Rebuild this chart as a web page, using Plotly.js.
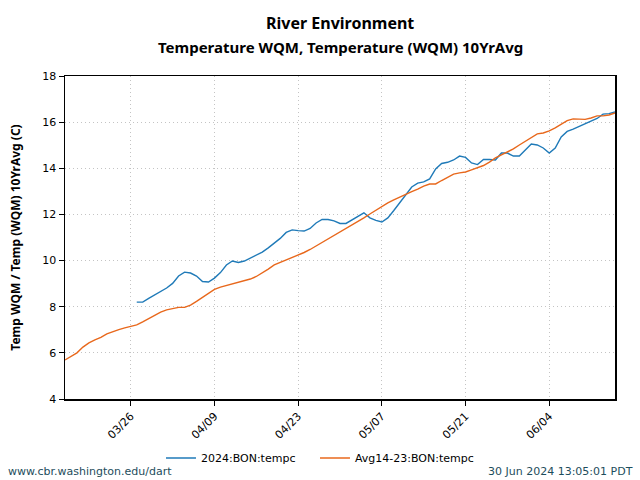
<!DOCTYPE html>
<html>
<head>
<meta charset="utf-8">
<script src="https://cdn.plot.ly/plotly-3.0.1.min.js"></script>
<style>html,body{margin:0;padding:0;background:#fff;}#chart{width:640px;height:480px;}</style>
</head>
<body>
<div id="chart"></div>
<script>
const startDate = '2024-03-15';
const avgValues = [5.69,5.86,6.0,6.25,6.43,6.56,6.67,6.82,6.93,7.01,7.08,7.14,7.21,7.34,7.49,7.64,7.77,7.86,7.90,7.97,7.97,8.07,8.23,8.40,8.57,8.75,8.85,8.92,8.98,9.05,9.11,9.20,9.31,9.46,9.63,9.81,9.92,10.03,10.13,10.22,10.35,10.48,10.63,10.78,10.94,11.09,11.24,11.39,11.54,11.67,11.85,12.02,12.19,12.34,12.50,12.63,12.76,12.89,12.99,13.10,13.23,13.32,13.32,13.47,13.62,13.75,13.80,13.84,13.93,14.01,14.12,14.27,14.45,14.58,14.71,14.84,15.01,15.16,15.34,15.49,15.53,15.62,15.75,15.92,16.07,16.14,16.14,16.12,16.18,16.27,16.27,16.31,16.40];
const yearStartOffset = 12;
const yearValues = [8.20,8.20,8.36,8.51,8.66,8.81,9.01,9.33,9.50,9.46,9.33,9.09,9.07,9.24,9.48,9.81,9.98,9.92,9.98,10.11,10.24,10.37,10.55,10.76,10.96,11.22,11.33,11.30,11.28,11.39,11.63,11.78,11.78,11.72,11.61,11.61,11.76,11.89,12.07,11.85,11.74,11.67,11.85,12.17,12.52,12.86,13.19,13.36,13.41,13.54,13.97,14.21,14.26,14.36,14.53,14.47,14.23,14.16,14.38,14.38,14.36,14.66,14.66,14.53,14.53,14.79,15.05,15.01,14.88,14.66,14.88,15.36,15.60,15.70,15.81,15.94,16.05,16.16,16.35,16.37,16.44];
const seriesNames = ['2024:BON:tempc','Avg14-23:BON:tempc'];
const tickDates = ['2024-03-26','2024-04-09','2024-04-23','2024-05-07','2024-05-21','2024-06-04'];
const tickLabels = ['03/26','04/09','04/23','05/07','05/21','06/04'];

function dayStr(offset){
  const d = new Date(startDate + 'T00:00:00Z');
  d.setUTCDate(d.getUTCDate() + offset);
  return d.toISOString().slice(0,10);
}
const avgX = avgValues.map((v,i)=>dayStr(i));
const yearX = yearValues.map((v,i)=>dayStr(i + yearStartOffset));

const traces = [
  {x: yearX, y: yearValues, name: seriesNames[0], type: 'scatter', mode: 'lines', line: {color: '#1f7ab8', width: 1.4}, legend: 'legend'},
  {x: avgX, y: avgValues, name: seriesNames[1], type: 'scatter', mode: 'lines', line: {color: '#e8681c', width: 1.4}, legend: 'legend2'}
];

const axisFont = {family: 'DejaVu Sans', size: 11, color: '#000'};
const legendFont = {family: 'DejaVu Sans', size: 11, color: '#000'};
const gridCommon = {showgrid: true, gridcolor: '#c4c4c4', griddash: '1px,3px', gridwidth: 1, zeroline: false};
const layout = {
  width: 640, height: 480,
  margin: {l: 65, r: 25, t: 76, b: 81, autoexpand: false},
  paper_bgcolor: '#fff', plot_bgcolor: '#fff',
  xaxis: Object.assign({type: 'date', range: ['2024-03-15','2024-06-15'], tickvals: tickDates, ticktext: tickLabels,
          tickangle: -45, tickfont: axisFont, ticks: 'outside', ticklen: 5, tickcolor: '#000', automargin: false,
          showline: true, linecolor: '#000', linewidth: 1.5, mirror: true}, gridCommon),
  yaxis: Object.assign({range: [4, 18], dtick: 2, tickfont: axisFont, ticks: 'outside', ticklen: 5, tickcolor: '#000', automargin: false,
          showline: true, linecolor: '#000', linewidth: 1.5, mirror: true,
          title: {text: '<b>Temp WQM / Temp (WQM) 10YrAvg (C)</b>', font: {family: 'Noto Sans', size: 12, color: '#000'}, standoff: 19}}, gridCommon),
  showlegend: true,
  legend: {orientation: 'h', x: 0.1745, xanchor: 'left', y: -0.1827, yanchor: 'middle', font: legendFont},
  legend2: {orientation: 'h', x: 0.4545, xanchor: 'left', y: -0.1827, yanchor: 'middle', font: legendFont},
  annotations: [
    {text: '<b>River Environment</b>', xref: 'paper', yref: 'paper', x: 0.5, xanchor: 'center', y: 1.164, yanchor: 'middle', showarrow: false,
     font: {family: 'Noto Sans', size: 16, color: '#000'}},
    {text: '<b>Temperature WQM, Temperature (WQM) 10YrAvg</b>', xref: 'paper', yref: 'paper', x: 0.5, xanchor: 'center', y: 1.090, yanchor: 'middle', showarrow: false,
     font: {family: 'Noto Sans', size: 15, color: '#000'}},
    {text: 'www.cbr.washington.edu/dart', xref: 'paper', yref: 'paper', x: -0.108, xanchor: 'left', y: -0.226, yanchor: 'middle', showarrow: false,
     font: {family: 'DejaVu Sans', size: 11, color: '#1d4d5c'}},
    {text: '30 Jun 2024 13:05:01 PDT', xref: 'paper', yref: 'paper', x: 1.036, xanchor: 'right', y: -0.226, yanchor: 'middle', showarrow: false,
     font: {family: 'DejaVu Sans', size: 11, color: '#1d4d5c'}}
  ]
};
Plotly.newPlot('chart', traces, layout, {displayModeBar: false, staticPlot: true});
</script>
</body>
</html>
